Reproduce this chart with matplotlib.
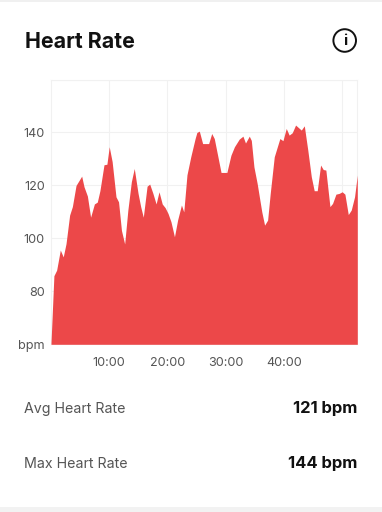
import matplotlib
matplotlib.use("Agg")
import matplotlib.pyplot as plt
from matplotlib.patches import Circle, Rectangle

minutes = [0.0, 0.5, 0.97, 1.6, 2.1, 2.58, 3.2, 3.67, 4.3, 5.27, 5.67, 6.25, 6.8, 7.45, 7.95, 8.4,
           9.1, 9.6, 10.0, 10.5, 11.16, 11.6, 12.1, 12.65, 13.2, 13.8, 14.3, 14.95, 15.4, 15.85,
           16.5, 16.95, 17.5, 18.05, 18.55, 19.1, 19.6, 20.1, 20.6, 21.2, 21.75, 22.4, 22.8, 23.35,
           24.0, 24.75, 25.05, 25.47, 26.04, 27.07, 27.6, 28.04, 29.2, 30.2, 30.9, 31.5, 32.33,
           32.96, 33.4, 34.05, 34.4, 34.85, 35.4, 36.2, 36.68, 37.2, 37.65, 38.34, 39.3, 39.83,
           40.4, 40.9, 41.43, 42.0, 42.98, 43.5, 44.1, 44.7, 45.2, 45.72, 46.3, 46.75, 47.2, 47.9,
           48.35, 48.93, 49.5, 50.0, 50.47, 51.05, 51.56, 52.13, 52.6]
bpm = [60.5, 85.9, 88, 95.6, 93, 98, 108.8, 112, 120, 123.5, 119.5, 116, 108, 113, 113.7, 118,
       127.8, 128, 134.6, 129, 115.7, 113.8, 103, 97.9, 110.7, 121.4, 126.4, 117, 112, 108,
       119.7, 120.5, 117, 113, 117.6, 113, 111.6, 109.4, 106.3, 100.6, 107, 112.6, 110, 124,
       130.8, 137.7, 140, 140.5, 135.8, 135.8, 139.6, 137.7, 124.9, 124.9, 131.4, 134.6, 137.5,
       138.6, 136, 138.6, 137, 127, 120.8, 110, 105, 106.9, 117, 130.8, 137.7, 136.9,
       141.5, 139, 139.9, 142.8, 140.9, 142.5, 133.3, 123.3, 118, 118, 127.7, 126, 125.8, 112,
       113.2, 116.7, 117, 117.6, 116.7, 109, 110.7, 115.7, 123.9]
x_ticks = [10, 20, 30, 40, 50]
x_labels = ["10:00", "20:00", "30:00", "40:00", ""]
y_ticks = [60, 80, 100, 120, 140, 160]
y_labels = ["bpm", "80", "100", "120", "140", ""]
title = "Heart Rate"
stat_names = ["Avg Heart Rate", "Max Heart Rate"]
stat_values = ["121 bpm", "144 bpm"]

W, H = 382, 512
FONT = "Inter"
px = 0.72
fig = plt.figure(figsize=(W / 100, H / 100), dpi=100, facecolor="white")

# full-figure pixel overlay for the card furniture
ov = fig.add_axes([0, 0, 1, 1])
ov.set_xlim(0, W)
ov.set_ylim(H, 0)
ov.axis("off")
ov.add_patch(Rectangle((0, 0), W, 1.5, color="#f0f0f0", lw=0))
ov.add_patch(Rectangle((0, 507), W, 5, color="#f2f2f2", lw=0))
ov.text(25, 41.5, title, fontsize=21.3 * px, fontweight="bold", color="#111111",
        family=FONT, va="center", ha="left")
ov.add_patch(Circle((344.7, 40.5), 11.3, fill=False, ec="#111111", lw=1.4))
ov.text(344.7, 41, "i", fontsize=15 * px, fontweight="bold", color="#111111",
        family=FONT, va="center", ha="center")
for ypos, name, val in zip([409.5, 464.5], stat_names, stat_values):
    ov.text(24.5, ypos, name, fontsize=14.2 * px, color="#555555", family=FONT,
            va="center", ha="left")
    ov.text(357, ypos - 1, val, fontsize=16.6 * px, fontweight="bold", color="#111111",
            family=FONT, va="center", ha="right")

# chart
L, R, T, B = 51, 357.3, 79.5, 344.3
ax = fig.add_axes([L / W, 1 - B / H, (R - L) / W, (B - T) / H])
ax.patch.set_alpha(0)
ax.fill_between(minutes, bpm, 60, color="#ec4849", lw=0, zorder=3)
ax.set_xlim(0, 52.6)
ax.set_ylim(60, 160)
ax.set_xticks(x_ticks, x_labels)
ax.set_yticks(y_ticks, y_labels)
ax.grid(True, color="#f1f1f1", lw=0.8, zorder=0)
ax.set_axisbelow(True)
ax.tick_params(length=0, labelsize=12.6 * px, labelcolor="#555555", pad=4.5)
ax.tick_params(axis="x", pad=9)
for lab in ax.get_xticklabels() + ax.get_yticklabels():
    lab.set_family(FONT)
for s in ax.spines.values():
    s.set_color("#f1f1f1")
    s.set_linewidth(0.8)

fig.savefig("out.png", dpi=100, facecolor="white")
